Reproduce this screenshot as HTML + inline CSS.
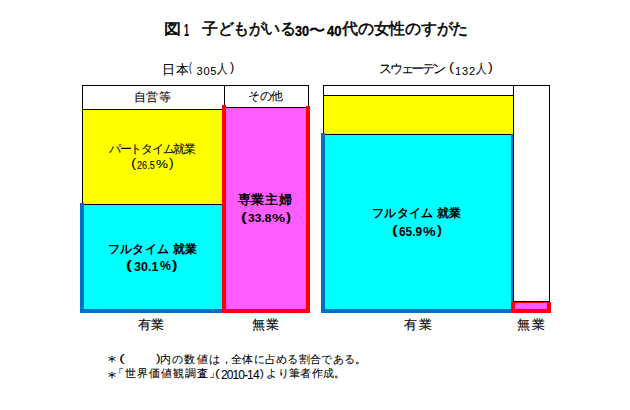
<!DOCTYPE html>
<html><head><meta charset="utf-8">
<style>
html,body{margin:0;padding:0;background:#fff;}
body{width:630px;height:410px;position:relative;overflow:hidden;font-family:"Liberation Sans",sans-serif;color:#000;}
.a{position:absolute;}
.t{position:absolute;white-space:nowrap;line-height:1;}
</style></head><body>
<div class="a" style="left:83px;top:110px;width:139px;height:94px;background:#ffff00;"></div>
<div class="a" style="left:84px;top:205px;width:138px;height:104px;background:#00ffff;"></div>
<div class="a" style="left:226px;top:108px;width:80px;height:201px;background:#ff5cff;"></div>
<div class="a" style="left:82px;top:85px;width:1px;height:120px;background:#000;"></div>
<div class="a" style="left:82px;top:85px;width:227px;height:1px;background:#000;"></div>
<div class="a" style="left:224px;top:85px;width:1px;height:23px;background:#000;"></div>
<div class="a" style="left:308px;top:85px;width:1px;height:23px;background:#000;"></div>
<div class="a" style="left:82px;top:109px;width:142px;height:1px;background:#000;"></div>
<div class="a" style="left:224px;top:107px;width:85px;height:1px;background:#000;"></div>
<div class="a" style="left:82px;top:204px;width:140px;height:1px;background:#000;"></div>
<div class="a" style="left:80px;top:203px;width:4px;height:110px;background:#0070c0;"></div>
<div class="a" style="left:80px;top:309px;width:142px;height:4px;background:#0070c0;"></div>
<div class="a" style="left:222px;top:105px;width:4px;height:208px;background:#ff0000;"></div>
<div class="a" style="left:306px;top:106px;width:4px;height:207px;background:#ff0000;"></div>
<div class="a" style="left:222px;top:309px;width:88px;height:4px;background:#ff0000;"></div>
<div class="a" style="left:324px;top:96px;width:189px;height:38px;background:#ffff00;"></div>
<div class="a" style="left:325px;top:135px;width:186px;height:174px;background:#00ffff;"></div>
<div class="a" style="left:515px;top:302px;width:32px;height:7px;background:#ff5cff;"></div>
<div class="a" style="left:323px;top:85px;width:227px;height:1px;background:#000;"></div>
<div class="a" style="left:323px;top:85px;width:1px;height:50px;background:#000;"></div>
<div class="a" style="left:323px;top:95px;width:190px;height:1px;background:#000;"></div>
<div class="a" style="left:513px;top:85px;width:1px;height:217px;background:#000;"></div>
<div class="a" style="left:549px;top:85px;width:1px;height:217px;background:#000;"></div>
<div class="a" style="left:323px;top:134px;width:190px;height:1px;background:#000;"></div>
<div class="a" style="left:513px;top:301px;width:37px;height:1px;background:#000;"></div>
<div class="a" style="left:321px;top:133px;width:4px;height:180px;background:#0070c0;"></div>
<div class="a" style="left:511px;top:134px;width:2px;height:175px;background:#0070c0;"></div>
<div class="a" style="left:321px;top:309px;width:191px;height:4px;background:#0070c0;"></div>
<div class="a" style="left:511px;top:302px;width:4px;height:11px;background:#ff0000;"></div>
<div class="a" style="left:547px;top:302px;width:4px;height:11px;background:#ff0000;"></div>
<div class="a" style="left:511px;top:309px;width:40px;height:4px;background:#ff0000;"></div>
<div class="a" style="left:515px;top:302px;width:32px;height:1px;background:#ff0000;"></div>
<div class="t" id="t1" style="left:164.49px;top:21.29px;font-size:15.00px;transform:scaleX(1.141);transform-origin:0 0;-webkit-text-stroke:0.5px #000;">図</div>
<div class="t" id="t2" style="left:184.00px;top:22.80px;font-size:16.00px;font-weight:bold;transform:scaleX(0.564);transform-origin:0 0;">1</div>
<div class="t" id="t3" style="left:202.00px;top:21.22px;font-size:16.00px;letter-spacing:-0.464px;-webkit-text-stroke:0.5px #000;">子どもがいる</div>
<div class="t" id="t4" style="left:294.79px;top:23.99px;font-size:14.00px;font-weight:bold;transform:scaleX(0.907);transform-origin:0 0;-webkit-text-stroke:0.3px #000;">30</div>
<div class="t" id="t5" style="left:309.26px;top:23.36px;font-size:14.00px;font-weight:bold;transform:scaleX(1.149);transform-origin:0 0;">〜</div>
<div class="t" id="t6" style="left:326.79px;top:23.99px;font-size:14.00px;font-weight:bold;transform:scaleX(0.933);transform-origin:0 0;-webkit-text-stroke:0.3px #000;">40</div>
<div class="t" id="t7" style="left:342.00px;top:21.29px;font-size:16.00px;letter-spacing:-0.229px;-webkit-text-stroke:0.5px #000;">代の女性のすがた</div>
<div class="t" id="l1" style="left:134.00px;top:91.02px;font-size:12.00px;-webkit-text-stroke:0.08px #000;letter-spacing:0.400px;">自営等</div>
<div class="t" id="l2" style="left:248.00px;top:89.71px;font-size:12.00px;-webkit-text-stroke:0.08px #000;letter-spacing:-0.450px;">その他</div>
<div class="t" id="l3" style="left:109.06px;top:143.02px;font-size:12.00px;-webkit-text-stroke:0.08px #000;letter-spacing:-1.309px;">パートタイム就業</div>
<div class="t" id="l5" style="left:107.94px;top:243.00px;font-size:12.00px;font-weight:bold;letter-spacing:0.266px;">フルタイム 就業</div>
<div class="t" id="l7" style="left:237.53px;top:193.23px;font-size:13.00px;font-weight:bold;letter-spacing:0.740px;">専業主婦</div>
<div class="t" id="l9" style="left:138.02px;top:318.45px;font-size:13.00px;-webkit-text-stroke:0.08px #000;letter-spacing:-0.120px;">有業</div>
<div class="t" id="l10" style="left:252.00px;top:318.45px;font-size:13.00px;-webkit-text-stroke:0.08px #000;letter-spacing:0.740px;">無業</div>
<div class="t" id="r1" style="left:372.00px;top:207.47px;font-size:12.00px;font-weight:bold;letter-spacing:0.257px;">フルタイム 就業</div>
<div class="t" id="r3" style="left:404.00px;top:318.45px;font-size:13.00px;-webkit-text-stroke:0.08px #000;letter-spacing:1.660px;">有業</div>
<div class="t" id="r4" style="left:517.45px;top:318.45px;font-size:13.00px;-webkit-text-stroke:0.08px #000;letter-spacing:1.240px;">無業</div>
<div class="t" id="l4a" style="left:130.56px;top:157.28px;font-size:12.00px;transform:scaleX(1.314);transform-origin:0 0;font-weight:normal;">(</div>
<div class="t" id="l4b" style="left:137.45px;top:159.85px;font-size:11.00px;-webkit-text-stroke:0.08px #000;transform:scaleX(0.828);transform-origin:0 0;">26.5</div>
<div class="t" id="l4c" style="left:155.95px;top:159.40px;font-size:11.00px;-webkit-text-stroke:0.08px #000;transform:scaleX(1.221);transform-origin:0 0;">%</div>
<div class="t" id="l4d" style="left:168.92px;top:157.28px;font-size:12.00px;transform:scaleX(1.165);transform-origin:0 0;font-weight:normal;">)</div>
<div class="t" id="l6a" style="left:126.10px;top:258.65px;font-size:12.50px;font-weight:bold;transform:scaleX(1.433);transform-origin:0 0;">(</div>
<div class="t" id="l6b" style="left:134.00px;top:260.78px;font-size:12.50px;font-weight:bold;">30.1</div>
<div class="t" id="l6c" style="left:159.95px;top:260.05px;font-size:12.50px;font-weight:bold;transform:scaleX(0.988);transform-origin:0 0;">%</div>
<div class="t" id="l6d" style="left:172.15px;top:258.65px;font-size:12.50px;font-weight:bold;transform:scaleX(1.299);transform-origin:0 0;">)</div>
<div class="t" id="l8a" style="left:240.55px;top:210.77px;font-size:12.50px;font-weight:bold;transform:scaleX(1.382);transform-origin:0 0;">(</div>
<div class="t" id="l8b" style="left:248.00px;top:213.45px;font-size:11.50px;font-weight:bold;transform:scaleX(1.045);transform-origin:0 0;">33.8</div>
<div class="t" id="l8c" style="left:272.05px;top:213.45px;font-size:11.50px;font-weight:bold;transform:scaleX(1.284);transform-origin:0 0;">%</div>
<div class="t" id="l8d" style="left:286.15px;top:210.77px;font-size:12.50px;font-weight:bold;transform:scaleX(1.188);transform-origin:0 0;">)</div>
<div class="t" id="r2a" style="left:391.55px;top:223.77px;font-size:12.50px;font-weight:bold;transform:scaleX(1.382);transform-origin:0 0;">(</div>
<div class="t" id="r2b" style="left:398.60px;top:226.22px;font-size:12.00px;font-weight:bold;transform:scaleX(0.984);transform-origin:0 0;">65.9</div>
<div class="t" id="r2c" style="left:423.05px;top:226.22px;font-size:12.00px;font-weight:bold;transform:scaleX(1.184);transform-origin:0 0;">%</div>
<div class="t" id="r2d" style="left:437.15px;top:223.77px;font-size:12.50px;font-weight:bold;transform:scaleX(1.188);transform-origin:0 0;">)</div>
<div class="t" id="jpa" style="left:162.20px;top:63.00px;font-size:13.00px;-webkit-text-stroke:0.08px #000;letter-spacing:0.800px;">日本</div>
<div class="t" id="jpb" style="left:189.05px;top:61.32px;font-size:12.00px;transform:scaleX(0.717);transform-origin:0 0;font-weight:normal;">(</div>
<div class="t" id="jpc" style="left:196.50px;top:65.50px;font-size:11.00px;-webkit-text-stroke:0.08px #000;letter-spacing:0.800px;">305</div>
<div class="t" id="jpd" style="left:217.00px;top:62.00px;font-size:13.00px;-webkit-text-stroke:0.08px #000;transform:scaleX(0.815);transform-origin:0 0;">人</div>
<div class="t" id="jpe" style="left:230.00px;top:61.32px;font-size:12.00px;transform:scaleX(1.064);transform-origin:0 0;font-weight:normal;">)</div>
<div class="t" id="swa" style="left:379.10px;top:62.10px;font-size:13.00px;-webkit-text-stroke:0.08px #000;letter-spacing:-2.240px;">スウェーデン</div>
<div class="t" id="swb" style="left:449.10px;top:61.32px;font-size:12.00px;transform:scaleX(1.260);transform-origin:0 0;font-weight:normal;">(</div>
<div class="t" id="swc" style="left:455.10px;top:65.50px;font-size:11.00px;-webkit-text-stroke:0.08px #000;letter-spacing:0.800px;">132</div>
<div class="t" id="swd" style="left:475.50px;top:62.00px;font-size:13.00px;-webkit-text-stroke:0.08px #000;transform:scaleX(0.815);transform-origin:0 0;">人</div>
<div class="t" id="swe" style="left:488.05px;top:61.32px;font-size:12.00px;transform:scaleX(1.199);transform-origin:0 0;font-weight:normal;">)</div>
<div class="t" id="f1a" style="left:103.42px;top:352.65px;font-size:15.00px;transform:scaleX(1.201);transform-origin:0 0;font-weight:normal;">＊</div>
<div class="t" id="f1b" style="left:119.10px;top:353.00px;font-size:11.00px;transform:scaleX(1.633);transform-origin:0 0;font-weight:normal;">(</div>
<div class="t" id="f1c" style="left:156.00px;top:353.00px;font-size:11.00px;transform:scaleX(1.267);transform-origin:0 0;font-weight:normal;">)</div>
<div class="t" id="f1d" style="left:159.70px;top:353.72px;font-size:11.00px;-webkit-text-stroke:0.08px #000;letter-spacing:1.328px;">内の数値は，</div>
<div class="t" id="f1e" style="left:231.00px;top:353.95px;font-size:11.00px;-webkit-text-stroke:0.08px #000;letter-spacing:0.291px;">全体に占める割合である。</div>
<div class="t" id="f2a" style="left:103.42px;top:368.65px;font-size:15.00px;transform:scaleX(1.201);transform-origin:0 0;font-weight:normal;">＊</div>
<div class="t" id="f2b" style="left:113.07px;top:368.45px;font-size:11.00px;-webkit-text-stroke:0.08px #000;letter-spacing:0.940px;">「世界価値観調査」</div>
<div class="t" id="f2c" style="left:214.62px;top:368.00px;font-size:11.00px;transform:scaleX(1.284);transform-origin:0 0;font-weight:normal;">(</div>
<div class="t" id="f2d" style="left:220.90px;top:369.04px;font-size:12.00px;-webkit-text-stroke:0.08px #000;letter-spacing:-0.893px;">2010-14</div>
<div class="t" id="f2e" style="left:260.38px;top:368.00px;font-size:11.00px;transform:scaleX(1.046);transform-origin:0 0;font-weight:normal;">)</div>
<div class="t" id="f2f" style="left:266.20px;top:368.00px;font-size:11.00px;-webkit-text-stroke:0.08px #000;letter-spacing:0.360px;">より筆者作成。</div>
</body></html>
